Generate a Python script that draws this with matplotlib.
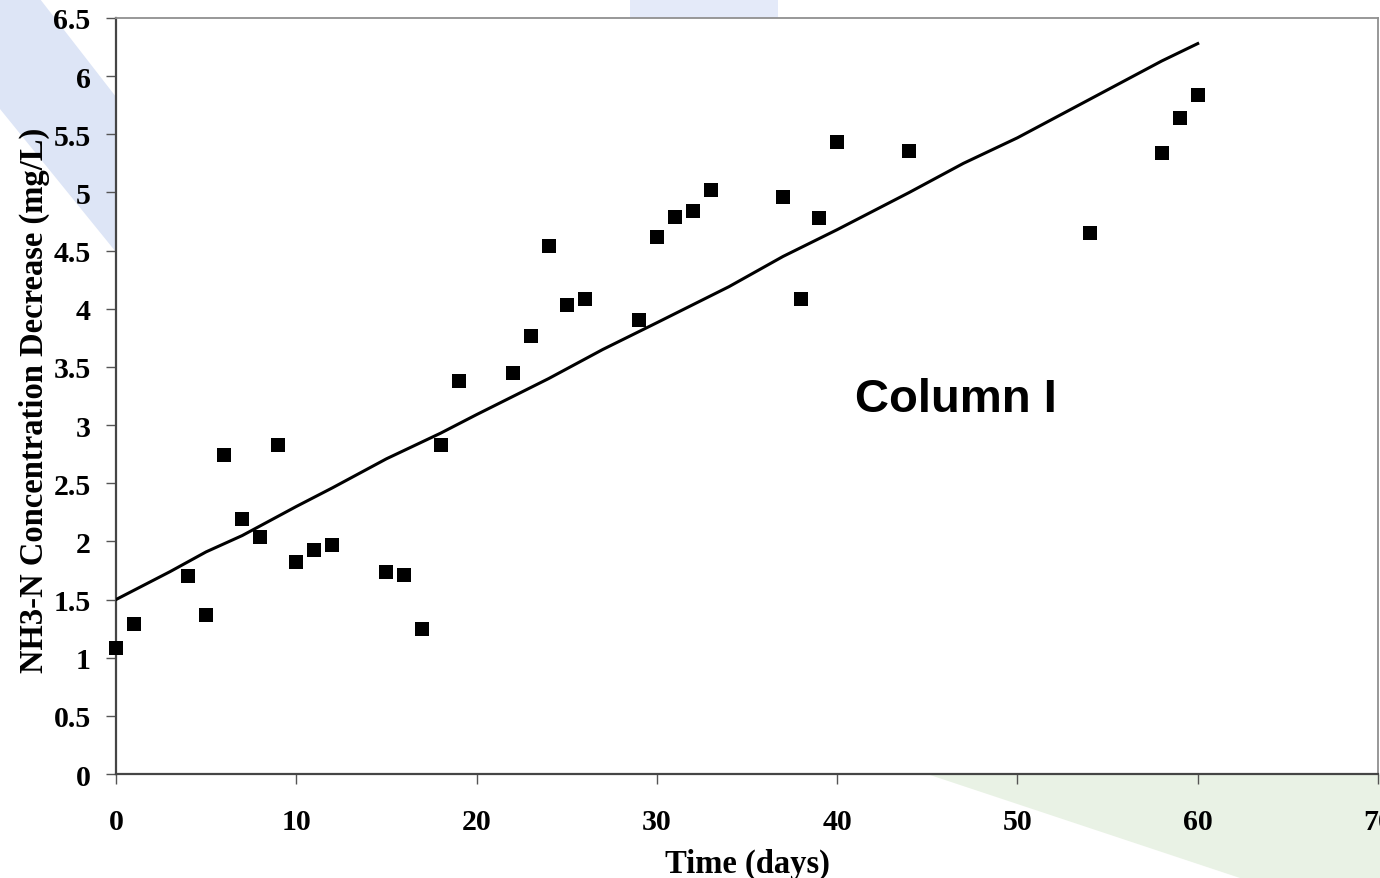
import matplotlib
matplotlib.use('Agg')
import matplotlib.pyplot as plt
from matplotlib.patches import Polygon
import numpy as np

# measured points (days, mg/L)
days = [0, 1, 4, 5, 6, 7, 8, 9, 10, 11, 12, 15, 16, 17, 18, 19, 22, 23, 24, 25,
        26, 29, 30, 31, 32, 33, 37, 38, 39, 40, 44, 54, 58, 59, 60]
nh3_decrease = [1.08, 1.29, 1.70, 1.37, 2.74, 2.19, 2.04, 2.83, 1.82, 1.93, 1.97,
                1.74, 1.71, 1.25, 2.83, 3.38, 3.45, 3.77, 4.54, 4.03, 4.08, 3.90,
                4.62, 4.79, 4.84, 5.02, 4.96, 4.08, 4.78, 5.43, 5.36, 4.65, 5.34,
                5.64, 5.84]

# model curve
model_days = [0, 3, 5, 7, 10, 12, 15, 18, 20, 24, 27, 30, 34, 37, 40, 44, 47, 50, 54, 58, 60]
model_vals = [1.50, 1.74, 1.91, 2.05, 2.30, 2.46, 2.71, 2.93, 3.09, 3.40, 3.65, 3.88,
              4.19, 4.45, 4.68, 5.00, 5.25, 5.47, 5.80, 6.13, 6.28]

x_ticks = [0, 10, 20, 30, 40, 50, 60, 70]
y_ticks = [0, 0.5, 1, 1.5, 2, 2.5, 3, 3.5, 4, 4.5, 5, 5.5, 6, 6.5]

W, H = 1380, 879
fig = plt.figure(figsize=(W / 100, H / 100), dpi=100)
fig.patch.set_facecolor('white')


def px(pts):
    # pixel coords -> figure fraction
    return [(x / W, 1 - y / H) for x, y in pts]


# background decoration (behind the axes)
fig.patches.append(Polygon(px([(0, 0), (40, 0), (300, 335), (300, 480), (0, 110)]),
                           closed=True, transform=fig.transFigure, facecolor='#dde5f6',
                           edgecolor='none', zorder=-5))
fig.patches.append(Polygon(px([(630, 0), (778, 0), (778, 20), (630, 20)]),
                           closed=True, transform=fig.transFigure, facecolor='#e4eaf9',
                           edgecolor='none', zorder=-5))
fig.patches.append(Polygon(px([(930, 776), (1380, 776), (1380, 879), (1240, 879)]),
                           closed=True, transform=fig.transFigure, facecolor='#e9f2e5',
                           edgecolor='none', zorder=-5))

ax = fig.add_axes([116 / W, 1 - 775 / H, (1378 - 116) / W, (775 - 19) / H])
ax.set_facecolor('white')

ax.plot(model_days, model_vals, color='black', lw=2.2, zorder=3)
ax.plot(days, nh3_decrease, linestyle='none', marker='s', ms=9.4, mew=0,
        color='black', zorder=4, clip_on=False)

ax.set_xlim(0, 70)
ax.set_ylim(0, 6.5)
ax.set_xticks(x_ticks)
ax.set_yticks(y_ticks)
ax.set_xticklabels([str(v) for v in x_ticks])
ax.set_yticklabels([('%g' % v) for v in y_ticks])

serif = 'Liberation Serif'
for lab in ax.get_xticklabels() + ax.get_yticklabels():
    lab.set_fontfamily(serif)
    lab.set_fontweight('bold')
    lab.set_fontsize(21.5)

ax.tick_params(axis='both', direction='out', length=7.2, width=1, color='#555555')
ax.tick_params(axis='x', pad=17)
ax.tick_params(axis='y', pad=11)

for side in ['left', 'bottom']:
    ax.spines[side].set_color('#454545')
    ax.spines[side].set_linewidth(1.6)
for side in ['top', 'right']:
    ax.spines[side].set_color('#909090')
    ax.spines[side].set_linewidth(1.3)

ax.set_xlabel('Time (days)', fontfamily=serif, fontweight='bold', fontsize=23.5)
ax.xaxis.set_label_coords(0.5, -0.098)
ax.set_ylabel('NH3-N Concentration Decrease (mg/L)', fontfamily=serif,
              fontweight='bold', fontsize=23.5)
ax.yaxis.set_label_coords(-0.052, 0.495)

ax.text(46.6, 3.12, 'Column I', fontfamily='Liberation Sans', fontweight='bold',
        fontsize=34, ha='center', va='baseline')

fig.savefig('out.png', dpi=100, facecolor=fig.get_facecolor())
